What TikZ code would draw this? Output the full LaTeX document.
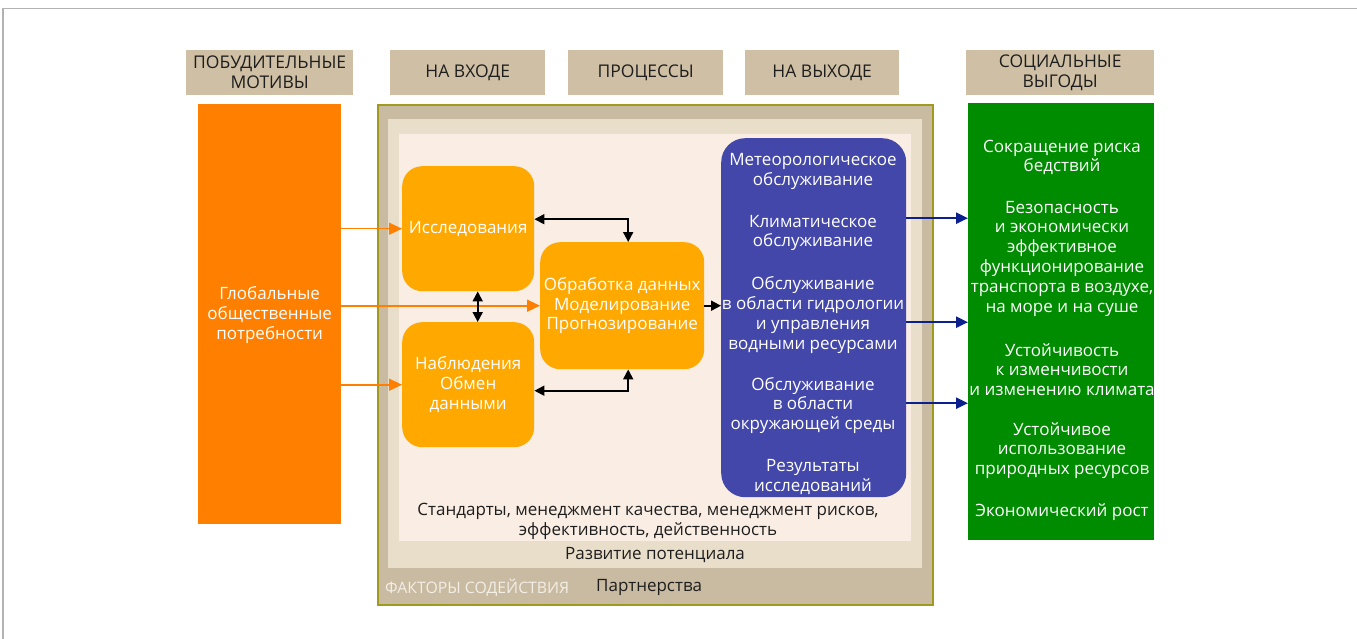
\documentclass[tikz,border=0pt]{standalone}
\usepackage{fontspec}
\setmainfont{Open Sans}
\usetikzlibrary{arrows.meta}
\definecolor{hdrtan}{HTML}{CFC0A5}
\definecolor{frametan}{HTML}{C9BBA1}
\definecolor{frameline}{HTML}{A09A1E}
\definecolor{lighttan}{HTML}{E8DEC9}
\definecolor{corepink}{HTML}{FAEDE4}
\definecolor{bigorange}{HTML}{FF7F00}
\definecolor{boxorange}{HTML}{FFA800}
\definecolor{outblue}{HTML}{4347A9}
\definecolor{bengreen}{HTML}{008C00}
\definecolor{navy}{HTML}{0B1F8F}
\definecolor{darktext}{HTML}{1E1E1E}
\definecolor{pale}{HTML}{F3EEE6}
\tikzset{
  body/.style={font=\fontsize{17}{19.8}\selectfont, align=center, inner sep=0pt},
  hdr/.style={fill=hdrtan, anchor=north west, inner sep=0pt, align=center,
    text=darktext, font=\fontsize{17.5}{20}\selectfont},
  panel/.style={anchor=north west, inner sep=0pt},
  obox/.style={panel, fill=boxorange, rounded corners=20pt, body, text=white},
  oarrow/.style={draw=bigorange, line width=1.6pt, -{Triangle[length=13pt,width=12pt]}},
  barrow/.style={draw=black, line width=1.8pt, {Triangle[length=10pt,width=10pt]}-{Triangle[length=10pt,width=10pt]}},
  barrowone/.style={draw=black, line width=1.8pt, -{Triangle[length=10pt,width=10pt]}},
  narrow/.style={draw=navy, line width=2.2pt, -{Triangle[length=12pt,width=11pt]}},
  wtext/.style={body, text=white},
  dtext/.style={body, text=darktext}
}
\begin{document}
\begin{tikzpicture}[x=1pt,y=-1pt]
\useasboundingbox (0,0) rectangle (1357,639);
% outer page frame
\draw[draw=black!30, line width=1.5pt] (3,639) -- (3,8.5) -- (1357,8.5);

% headers
\node[hdr, minimum width=167pt, minimum height=45pt] (h1) at (186,50) {ПОБУДИТЕЛЬНЫЕ\\МОТИВЫ};
\node[hdr, minimum width=155pt, minimum height=45pt] (h2) at (390,50) {НА ВХОДЕ};
\node[hdr, minimum width=155pt, minimum height=45pt] (h3) at (568,50) {ПРОЦЕССЫ};
\node[hdr, minimum width=154pt, minimum height=45pt] (h4) at (745,50) {НА ВЫХОДЕ};
\node[hdr, minimum width=188pt, minimum height=45pt] (h5) at (966,50) {СОЦИАЛЬНЫЕ\\ВЫГОДЫ};

% nested frame
\node[panel, draw=frameline, line width=2pt, fill=frametan, minimum width=555pt, minimum height=500pt] (frame) at (377,104) {};
\node[panel, fill=lighttan, minimum width=534pt, minimum height=449pt] (cap) at (388,119) {};
\node[panel, fill=corepink, minimum width=512pt, minimum height=407pt] (core) at (399,134) {};

% drivers
\node[panel, fill=bigorange, minimum width=143pt, minimum height=420pt] (needs) at (198,104) {};
\node[wtext] (needstext) at (needs.center) [yshift=-1pt] {Глобальные\\общественные\\потребности};

% benefits
\node[panel, fill=bengreen, minimum width=186pt, minimum height=437pt] (benefits) at (968,103) {};
\node[wtext] (b1) at (1062,157.5) {Сокращение риска\\бедствий};
\node[wtext] (b2) at (1062,258.5) {Безопасность\\и экономически\\эффективное\\функционирование\\транспорта в воздухе,\\на море и на суше};
\node[wtext] (b3) at (1062,369.5) {Устойчивость\\к изменчивости\\и изменению климата};
\node[wtext] (b4) at (1062,450.5) {Устойчивое\\использование\\природных ресурсов};
\node[wtext] (b5) at (1062,512) {Экономический рост};

% outputs
\node[panel, fill=outblue, rounded corners=24pt, minimum width=185pt, minimum height=359pt] (outputs) at (721,138) {};
\node[wtext] (o1t) at (813,171.5) {Метеорологическое\\обслуживание};
\node[wtext] (o2t) at (813,233) {Климатическое\\обслуживание};
\node[wtext] (o3t) at (813,315) {Обслуживание\\в области гидрологии\\и управления\\водными ресурсами};
\node[wtext] (o4t) at (813,405.5) {Обслуживание\\в области\\окружающей среды};
\node[wtext] (o5t) at (813,477) {Результаты\\исследований};

% process boxes
\node[obox, minimum width=132pt, minimum height=125pt] (res) at (402,166) {Исследования};
\node[obox, minimum width=164pt, minimum height=127pt] (proc) at (540,242) {Обработка данных\\Моделирование\\Прогнозирование};
\node[obox, minimum width=132pt, minimum height=125pt] (obs) at (402,322) {Наблюдения\\Обмен\\данными};

% bottom texts
\node[dtext] (std) at (648,521.5) {Стандарты, менеджмент качества, менеджмент рисков,\\эффективность, действенность};
\node[dtext] (capdev) at (655,555) {Развитие потенциала};
\node[body, text=pale, anchor=west, font=\fontsize{15.8}{18}\selectfont] (enablers) at (385,588) {ФАКТОРЫ СОДЕЙСТВИЯ};
\node[dtext, anchor=west] (partners) at (596,587) {Партнерства};

% orange input arrows
\draw[oarrow] (needs.east |- res.west) -- (res.west);
\draw[oarrow] (needs.east |- proc.west) -- (proc.west);
\draw[oarrow] (needs.east |- obs.west) -- (obs.west);

% black arrows
\draw[barrow] ([yshift=9.5pt]res.east) -| ([xshift=6pt]proc.north);
\draw[barrow] ([yshift=-6pt]obs.east) -| ([xshift=6pt]proc.south);
\draw[barrow] ([xshift=9.5pt]res.south) -- ([xshift=9.5pt]obs.north);
\draw[barrowone] (proc.east) -- (proc.east -| outputs.west);

% navy arrows
\path ([yshift=99.5pt]outputs.east) coordinate (n1)
      ([yshift=-4.5pt]outputs.east) coordinate (n2)
      ([yshift=-85.5pt]outputs.east) coordinate (n3);
\draw[narrow] (n1) -- (n1 -| benefits.west);
\draw[narrow] (n2) -- (n2 -| benefits.west);
\draw[narrow] (n3) -- (n3 -| benefits.west);
\end{tikzpicture}
\end{document}
